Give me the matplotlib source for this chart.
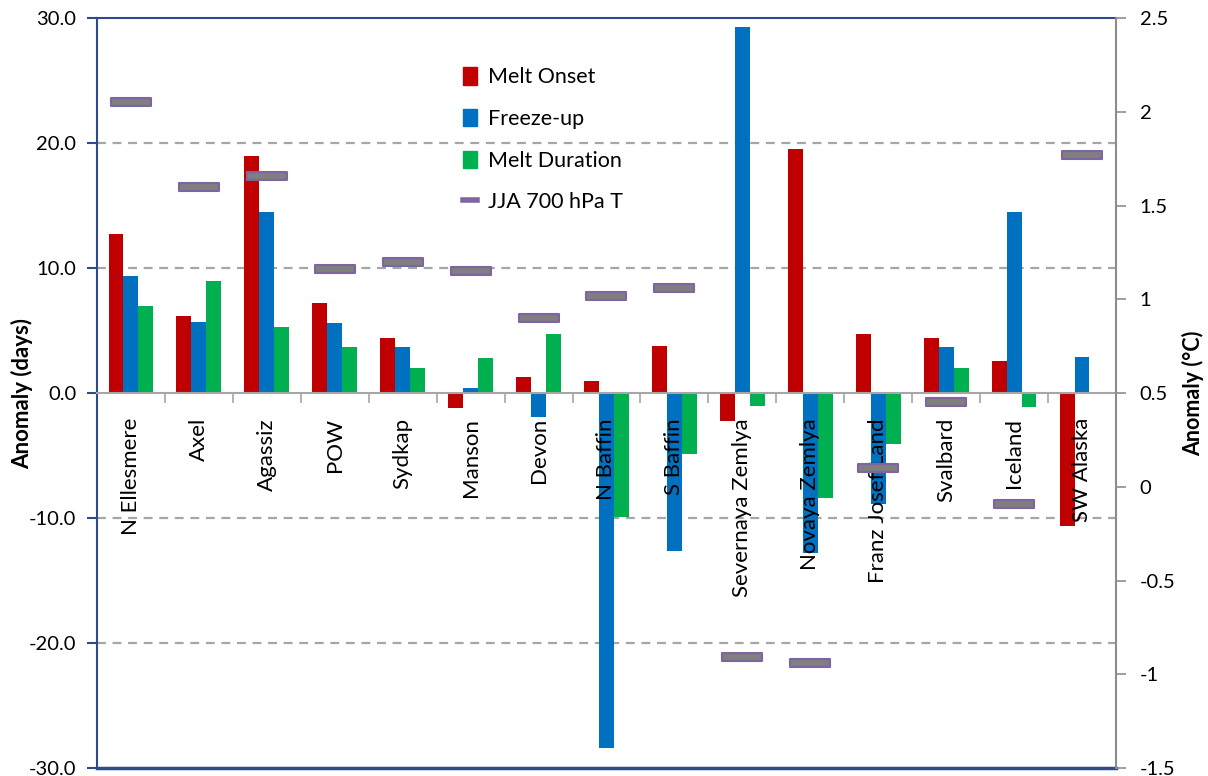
import numpy as np
import matplotlib
matplotlib.use("Agg")
import matplotlib.pyplot as plt
from matplotlib.path import Path
from matplotlib.lines import Line2D
from matplotlib.patches import Patch

plt.rcParams['font.family'] = ['Lato', 'DejaVu Sans']

categories = ["N Ellesmere", "Axel", "Agassiz", "POW", "Sydkap", "Manson", "Devon",
              "N Baffin", "S Baffin", "Severnaya Zemlya", "Novaya Zemlya",
              "Franz Josef Land", "Svalbard", "Iceland", "SW Alaska"]
melt_onset = [12.7, 6.2, 19.0, 7.2, 4.4, -1.2, 1.3, 1.0, 3.8, -2.2, 19.5, 4.7, 4.4, 2.6, -10.6]
freeze_up = [9.4, 5.7, 14.5, 5.6, 3.7, 0.4, -1.9, -28.4, -12.6, 29.3, -12.8, -8.9, 3.7, 14.5, 2.9]
melt_duration = [7.0, 9.0, 5.3, 3.7, 2.0, 2.8, 4.7, -9.9, -4.9, -1.0, -8.4, -4.1, 2.0, -1.1, 0.0]
jja_temp = [2.05, 1.60, 1.66, 1.16, 1.20, 1.15, 0.90, 1.02, 1.06, -0.91, -0.94, 0.10, 0.45, -0.09, 1.77]

red = "#C00000"
blue = "#0070C0"
green = "#00B050"
navy = "#2E4A8C"

fig = plt.figure(figsize=(12.08, 7.76), dpi=100)
ax = fig.add_axes([0.0803, 0.0103, 0.8435, 0.9665])

x = np.arange(len(categories))
w = 0.22
ax.bar(x - w, melt_onset, w, color=red, zorder=1)
ax.bar(x, freeze_up, w, color=blue, zorder=1)
ax.bar(x + w, melt_duration, w, color=green, zorder=1)

ax.set_xlim(-0.5, len(categories) - 0.5)
ax.set_ylim(-30, 30)
for g in [-20, -10, 10, 20]:
    ax.axhline(g, color="#A6A6A6", lw=1.6, ls=(0, (4, 3)), zorder=0.5)

# left axis
ax.set_yticks(np.arange(-30, 31, 10))
ax.set_yticklabels(["%.1f" % v for v in np.arange(-30, 31, 10)])
ax.tick_params(axis='y', direction='out', length=7, color=navy, labelsize=14.5, width=1.5, pad=8)
ax.spines['left'].set_color(navy)
ax.spines['left'].set_linewidth(1.5)
ax.spines['top'].set_color(navy)
ax.spines['top'].set_linewidth(1.5)
ax.spines['right'].set_visible(False)
ax.axhline(-30, color=navy, lw=2.5, clip_on=False, zorder=3)

# category axis at zero
ax.spines['bottom'].set_position(('data', 0))
ax.spines['bottom'].set_color("#A6A6A6")
ax.spines['bottom'].set_linewidth(1.5)
ax.set_xticks(np.arange(0.5, len(categories) - 0.5, 1))
ax.set_xticklabels([])
ax.tick_params(axis='x', which='major', direction='out', length=7, color="#A6A6A6", width=1.2)
ax.set_xticks(x, minor=True)
ax.set_xticklabels(categories, minor=True, rotation=90, fontsize=16)
ax.tick_params(axis='x', which='minor', length=0, pad=18)
ax.xaxis.set_zorder(5)
ax.set_ylabel("Anomaly (days)", fontsize=16, fontweight='bold')
ax.yaxis.set_label_coords(-0.063, 0.5)

# right axis
ax2 = ax.twinx()
ax2.set_ylim(-1.5, 2.5)
rt = np.arange(-1.5, 2.51, 0.5)
ax2.set_yticks(rt)
ax2.set_yticklabels(["%g" % v for v in rt])
ax2.tick_params(axis='y', direction='out', length=7, color="#8C8C8C", labelsize=14.5, width=1.2, pad=10)
for s in ['left', 'top', 'bottom']:
    ax2.spines[s].set_visible(False)
ax2.spines['right'].set_color("#8C8C8C")
ax2.spines['right'].set_linewidth(1.5)
ax2.set_ylabel("Anomaly (\u00b0C)", fontsize=15.5, fontweight='bold')
ax2.yaxis.set_label_coords(1.065, 0.5)

dash = Path([(-1, -0.21), (1, -0.21), (1, 0.21), (-1, 0.21), (-1, -0.21)],
            [Path.MOVETO, Path.LINETO, Path.LINETO, Path.LINETO, Path.CLOSEPOLY])
ax2.plot(x, jja_temp, ls='none', marker=dash, markersize=28.5, markerfacecolor="#7F7F7F",
         markeredgecolor="#8064A2", markeredgewidth=1.5, zorder=3)

handles = [Patch(color=red), Patch(color=blue), Patch(color=green),
           Line2D([0], [0], color="#8064A2", lw=4)]
labels = ["Melt Onset", "Freeze-up", "Melt Duration", "JJA 700 hPa T"]
leg = ax2.legend(handles, labels, loc='upper left', bbox_to_anchor=(0.34, 0.96),
                 frameon=False, fontsize=15.5, labelspacing=1.0, handlelength=0.65,
                 handleheight=0.85, handletextpad=0.5)

fig.savefig("out.png", dpi=100)
